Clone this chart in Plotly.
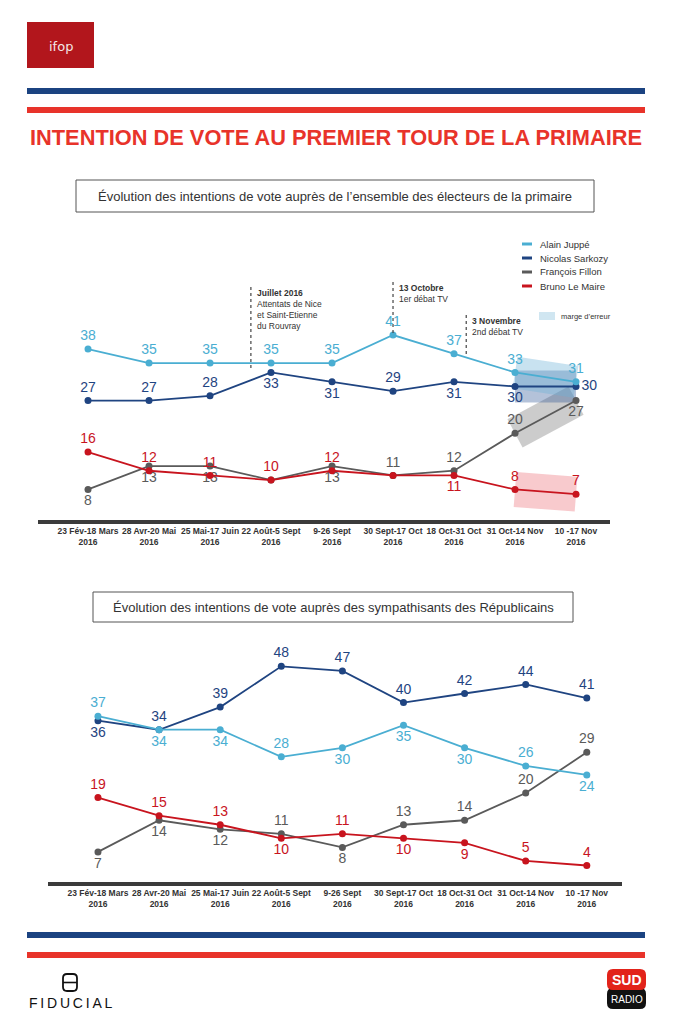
import math
import plotly.graph_objects as go

# page body has an 8px default margin: the figure is drawn 8px in from the window corner
OFF = 8
W, H = 674 - OFF, 1024 - 2 * OFF

# ---------------- data ----------------
periods = ["23 Fév-18 Mars<br>2016", "28 Avr-20 Mai<br>2016", "25 Mai-17 Juin<br>2016",
           "22 Août-5 Sept<br>2016", "9-26 Sept<br>2016", "30 Sept-17 Oct<br>2016",
           "18 Oct-31 Oct<br>2016", "31 Oct-14 Nov<br>2016", "10 -17 Nov<br>2016"]
candidates = ["Alain Juppé", "Nicolas Sarkozy", "François Fillon", "Bruno Le Maire"]

all_juppe = [38, 35, 35, 35, 35, 41, 37, 33, 31]
all_sarkozy = [27, 27, 28, 33, 31, 29, 31, 30, 30]
all_fillon = [8, 13, 13, 10, 13, 11, 12, 20, 27]
all_lemaire = [16, 12, 11, 10, 12, 11, 11, 8, 7]

lr_juppe = [37, 34, 34, 28, 30, 35, 30, 26, 24]
lr_sarkozy = [36, 34, 39, 48, 47, 40, 42, 44, 41]
lr_fillon = [7, 14, 12, 11, 8, 13, 14, 20, 29]
lr_lemaire = [19, 15, 13, 10, 11, 10, 9, 5, 4]

events = [(2.67, "<b>Juillet 2016</b><br>Attentats de Nice<br>et Saint-Etienne<br>du Rouvray"),
          (5.0, "<b>13 Octobre</b><br>1er débat TV"),
          (6.2, "<b>3 Novembre</b><br>2nd débat TV")]

# ---------------- style ----------------
colors = {"Alain Juppé": "#4aaed2", "Nicolas Sarkozy": "#1f4481",
          "François Fillon": "#5a5a5a", "Bruno Le Maire": "#c8141e"}
band_colors = {"Alain Juppé": "rgba(110,180,215,0.38)", "Nicolas Sarkozy": "rgba(40,80,145,0.35)",
               "François Fillon": "rgba(110,110,110,0.35)", "Bruno Le Maire": "rgba(232,90,100,0.32)"}
FONT = "Liberation Sans, Arial, sans-serif"
TC = "#333333"

T, B_ = "top center", "bottom center"
pos1 = {
    "Alain Juppé": [T] * 9,
    "Nicolas Sarkozy": [T, T, T, B_, B_, T, B_, B_, "middle right"],
    "François Fillon": [B_, B_, B_, B_, B_, T, T, T, B_],
    "Bruno Le Maire": [T, T, T, T, T, T, B_, T, T],
}
show1 = {
    "Alain Juppé": [1] * 9,
    "Nicolas Sarkozy": [1] * 9,
    "François Fillon": [1, 1, 1, 0, 1, 1, 1, 1, 1],
    "Bruno Le Maire": [1, 1, 1, 1, 1, 0, 1, 1, 1],
}
pos2 = {
    "Alain Juppé": [T, B_, B_, T, B_, B_, B_, T, B_],
    "Nicolas Sarkozy": [B_] + [T] * 8,
    "François Fillon": [B_, B_, B_, T, B_, T, T, T, T],
    "Bruno Le Maire": [T, T, T, B_, T, B_, B_, T, T],
}


def X(px):
    return (px - OFF) / W


def Y(py):
    return 1 - (py - OFF) / H


idx = list(range(len(periods)))
series1 = dict(zip(candidates, [all_juppe, all_sarkozy, all_fillon, all_lemaire]))
series2 = dict(zip(candidates, [lr_juppe, lr_sarkozy, lr_fillon, lr_lemaire]))

# pixel scales of chart 1 (used to draw error-margin bands as rotated rectangles)
SX1, SY1 = 61.0, 4.68
BAND_H = {"Alain Juppé": 16, "Nicolas Sarkozy": 16, "François Fillon": 16, "Bruno Le Maire": 17.5}

fig = go.Figure()


def band(vals, h):
    x7, x8 = idx[-2], idx[-1]
    v7, v8 = vals[-2], vals[-1]
    dx, dy = (x8 - x7) * SX1, (v8 - v7) * SY1
    L = math.hypot(dx, dy)
    nx, ny = -dy / L * h, dx / L * h
    pts = [(x7, v7, 1), (x8, v8, 1), (x8, v8, -1), (x7, v7, -1)]
    xs = [p[0] + p[2] * nx / SX1 for p in pts]
    ys = [p[1] + p[2] * ny / SY1 for p in pts]
    return xs + [xs[0]], ys + [ys[0]]


for c in ["François Fillon", "Bruno Le Maire", "Nicolas Sarkozy", "Alain Juppé"]:
    bx, by = band(series1[c], BAND_H[c])
    fig.add_trace(go.Scatter(x=bx, y=by, fill="toself", fillcolor=band_colors[c], mode="lines",
                             line=dict(width=0), hoverinfo="skip", showlegend=False,
                             xaxis="x", yaxis="y"))

order = ["François Fillon", "Bruno Le Maire", "Nicolas Sarkozy", "Alain Juppé"]
for c in order:
    vals = series1[c]
    fig.add_trace(go.Scatter(
        x=idx, y=vals, mode="lines+markers+text", name=c,
        text=[str(v) if s else "" for v, s in zip(vals, show1[c])],
        textposition=pos1[c], textfont=dict(size=14, color=colors[c], family=FONT),
        line=dict(color=colors[c], width=1.8), marker=dict(size=7, color=colors[c]),
        cliponaxis=False, showlegend=False, xaxis="x", yaxis="y"))

for c in order:
    vals = series2[c]
    fig.add_trace(go.Scatter(
        x=idx, y=vals, mode="lines+markers+text", name=c,
        text=[str(v) for v in vals],
        textposition=pos2[c], textfont=dict(size=14, color=colors[c], family=FONT),
        line=dict(color=colors[c], width=1.8), marker=dict(size=7, color=colors[c]),
        cliponaxis=False, showlegend=False, xaxis="x2", yaxis="y2"))

axis_common = dict(showline=True, linecolor="#3b3b3b", linewidth=4, ticks="", showgrid=False,
                   zeroline=False, tickvals=idx, ticktext=periods,
                   tickfont=dict(size=8.5, color=TC, family=FONT, weight="bold"))

shapes = []
ann = []


def note(x, y, text, size, color=TC, xanchor="center", yanchor="middle", family=FONT, **kw):
    d = dict(x=x, y=y, xref=kw.pop("xref", "paper"), yref=kw.pop("yref", "paper"), text=text,
             showarrow=False, xanchor=xanchor, yanchor=yanchor,
             font=dict(size=size, color=color, family=family))
    d.update(kw)
    ann.append(d)


# stripes
for y0, col in [(88, "#1b4381"), (107, "#e8332a"), (932, "#1b4381"), (952, "#e8332a")]:
    shapes.append(dict(type="rect", xref="paper", yref="paper", x0=X(27), x1=X(645),
                       y0=Y(y0), y1=Y(y0 + 6), fillcolor=col, line=dict(width=0), layer="below"))

# ifop logo
shapes.append(dict(type="rect", xref="paper", yref="paper", x0=X(27), x1=X(94), y0=Y(22), y1=Y(68),
                   fillcolor="#b2161c", line=dict(width=0)))
note(X(61), Y(47), "ifop", 13, color="#f3e6e6", family="DejaVu Sans, sans-serif")

# title
note(X(336), Y(137), "<b>INTENTION DE VOTE AU PREMIER TOUR DE LA PRIMAIRE</b>", 21.8, color="#e8332a")

# subtitle boxes
for (x0, x1, y0, y1, txt) in [
        (76, 594, 180, 212, "Évolution des intentions de vote auprès de l’ensemble des électeurs de la primaire"),
        (93, 573, 592, 622, "Évolution des intentions de vote auprès des sympathisants des Républicains")]:
    shapes.append(dict(type="rect", xref="paper", yref="paper", x0=X(x0), x1=X(x1), y0=Y(y1), y1=Y(y0),
                       line=dict(color="#555555", width=1), fillcolor="white"))
    note(X((x0 + x1) / 2), Y((y0 + y1) / 2), txt, 13)

# events (chart 1)
ev_y = [(287, 371), (282, 333), (315, 357)]
for (xv, txt), (ya, yb) in zip(events, ev_y):
    shapes.append(dict(type="line", xref="x", yref="paper", x0=xv, x1=xv, y0=Y(ya), y1=Y(yb),
                       line=dict(color="#444444", width=1.2, dash="dot")))
    note(xv, Y(ya - 1), txt, 8.5, xref="x", xanchor="left", yanchor="top", align="left", xshift=4)

# legend (manual)
for i, c in enumerate(candidates):
    yy = 244 + 14 * i
    shapes.append(dict(type="line", xref="paper", yref="paper", x0=X(522), x1=X(532), y0=Y(yy), y1=Y(yy),
                       line=dict(color=colors[c], width=3)))
    note(X(538), Y(yy), c, 9.5, xanchor="left")
shapes.append(dict(type="rect", xref="paper", yref="paper", x0=X(539), x1=X(555), y0=Y(320), y1=Y(312),
                   fillcolor="rgba(150,200,225,0.45)", line=dict(width=0)))
note(X(559), Y(316), "marge d’erreur", 7.5, xanchor="left")


def rrect(x0, y0, x1, y1, r):
    p = [(x0 + r, y0), (x1 - r, y0), "Q", (x1, y0), (x1, y0 + r), (x1, y1 - r), "Q", (x1, y1), (x1 - r, y1),
         (x0 + r, y1), "Q", (x0, y1), (x0, y1 - r), (x0, y0 + r), "Q", (x0, y0), (x0 + r, y0)]
    s = "M {:.5f},{:.5f}".format(X(p[0][0]), Y(p[0][1]))
    i = 1
    while i < len(p):
        if p[i] == "Q":
            a, b = p[i + 1], p[i + 2]
            s += " Q {:.5f},{:.5f} {:.5f},{:.5f}".format(X(a[0]), Y(a[1]), X(b[0]), Y(b[1]))
            i += 3
        else:
            s += " L {:.5f},{:.5f}".format(X(p[i][0]), Y(p[i][1]))
            i += 1
    return s + " Z"


# FIDUCIAL logo
shapes.append(dict(type="path", xref="paper", yref="paper", path=rrect(63, 974, 77, 991, 4),
                   line=dict(color="#111111", width=1.8)))
shapes.append(dict(type="line", xref="paper", yref="paper", x0=X(63), x1=X(77), y0=Y(982.5), y1=Y(982.5),
                   line=dict(color="#111111", width=1.6)))
note(X(71), Y(1003), "\u2009".join("FIDUCIAL"), 14, color="#111111")

# SUD RADIO logo
shapes.append(dict(type="path", xref="paper", yref="paper", path=rrect(607, 988, 646, 1009, 6),
                   fillcolor="#111111", line=dict(width=0)))
shapes.append(dict(type="path", xref="paper", yref="paper", path=rrect(607, 969, 646, 990, 6),
                   fillcolor="#e2231a", line=dict(width=0)))
note(X(626.5), Y(979.5), "<b>SUD</b>", 14, color="white")
note(X(626.5), Y(999), "RADIO", 10, color="white")

fig.update_layout(
    width=W, height=H, autosize=False, margin=dict(l=0, r=0, t=0, b=0),
    paper_bgcolor="white", plot_bgcolor="rgba(0,0,0,0)", showlegend=False,
    font=dict(family=FONT, color=TC),
    xaxis=dict(domain=[X(38), X(610)], range=[-0.82, 8.557], anchor="y", **axis_common),
    yaxis=dict(domain=[Y(520), Y(230)], range=[(526.9 - 520) / 4.68, (526.9 - 230) / 4.68],
               visible=False, anchor="x"),
    xaxis2=dict(domain=[X(48), X(622)], range=[-0.818, 8.576], anchor="y2", **axis_common),
    yaxis2=dict(domain=[Y(882), Y(650)], range=[(883.6 - 882) / 4.526, (883.6 - 650) / 4.526],
                visible=False, anchor="x2"),
    shapes=shapes, annotations=ann,
)

fig.write_html("out.html")
